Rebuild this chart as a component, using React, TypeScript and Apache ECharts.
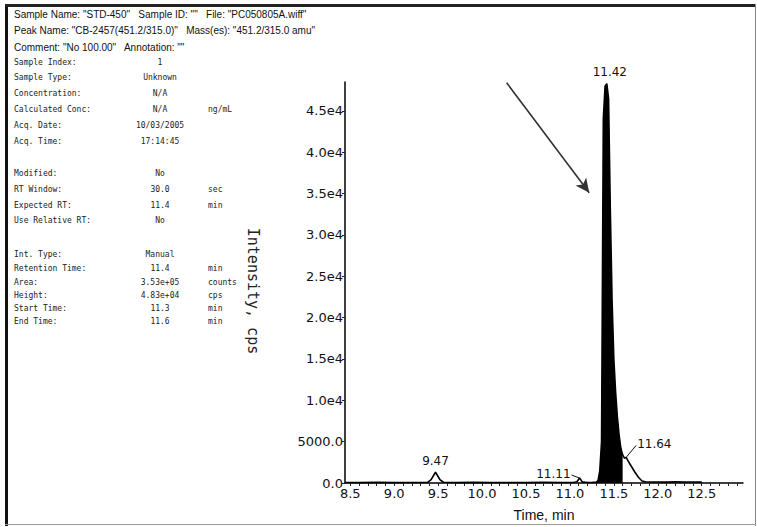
import React, { useEffect, useRef } from "react";
import * as echarts from "echarts";

// Extracted ion chromatogram: retention time (min) and intensity (cps)
const times = [
  8.45, 8.6, 8.8, 9.0, 9.2, 9.38, 9.42, 9.47, 9.52, 9.56, 9.7, 9.9, 10.1, 10.3, 10.5, 10.7, 10.9,
  11.04, 11.08, 11.11, 11.14, 11.2, 11.26, 11.3, 11.32, 11.34, 11.36, 11.38, 11.4, 11.42, 11.44,
  11.46, 11.48, 11.5, 11.52, 11.54, 11.56, 11.58, 11.6, 11.62, 11.64, 11.66, 11.7, 11.74, 11.78,
  11.82, 11.86, 11.92, 12.0, 12.1, 12.2, 12.3, 12.4, 12.5,
];
const intensities = [
  60, 40, 70, 50, 60, 80, 400, 1300, 420, 90, 50, 70, 40, 60, 50, 70, 60,
  60, 150, 600, 140, 60, 80, 120, 300, 1500, 5000, 44000, 48000, 48300, 46500,
  33000, 22000, 15000, 11000, 8000, 5800, 4200, 3400, 3000, 3100, 2700, 2000, 1300, 700,
  250, 150, 120, 130, 110, 140, 120, 130, 100,
];

// Integrated (filled) region of the main peak
const integrationStart = 11.3;
const integrationEnd = 11.6;

// Peak apex annotations
const peakTimes = [9.47, 11.11, 11.42, 11.64];
const peakHeights = [1300, 600, 48300, 3100];
const peakLabels = ["9.47", "11.11", "11.42", "11.64"];

// Axis tick labels
const xTickLabels = ["8.5", "9.0", "9.5", "10.0", "10.5", "11.0", "11.5", "12.0", "12.5"];
const yTickLabels = ["0.0", "5000.0", "1.0e4", "1.5e4", "2.0e4", "2.5e4", "3.0e4", "3.5e4", "4.0e4", "4.5e4"];

// Arrow pointing at the main peak (time, intensity)
const arrowFrom = [10.28, 48400];
const arrowTo = [11.22, 35100];

// Report header and peak information
const headerLines = [
  'Sample Name: "STD-450"   Sample ID: ""   File: "PC050805A.wiff"',
  'Peak Name: "CB-2457(451.2/315.0)"   Mass(es): "451.2/315.0 amu"',
  'Comment: "No 100.00"   Annotation: ""',
];
const infoLabels = [
  "Sample Index:", "Sample Type:", "Concentration:", "Calculated Conc:", "Acq. Date:", "Acq. Time:",
  "Modified:", "RT Window:", "Expected RT:", "Use Relative RT:",
  "Int. Type:", "Retention Time:", "Area:", "Height:", "Start Time:", "End Time:",
];
const infoValues = [
  "1", "Unknown", "N/A", "N/A", "10/03/2005", "17:14:45",
  "No", "30.0", "11.4", "No",
  "Manual", "11.4", "3.53e+05", "4.83e+04", "11.3", "11.6",
];
const infoUnits = [
  "", "", "", "ng/mL", "", "",
  "", "sec", "min", "",
  "", "min", "counts", "cps", "min", "min",
];

const W = 757;
const H = 527;
const infoRowY = [62, 77, 93, 109, 125, 141, 173, 189, 205, 220, 254, 268, 282, 295, 308, 321];
const labelLayout = [
  { dx: 0, dy: -5, leader: false, align: "center" },
  { dx: -8, dy: -3, leader: true, align: "right" },
  { dx: 3, dy: -6, leader: false, align: "center" },
  { dx: 10, dy: -12, leader: true, align: "left" },
];

const monoFont = "DejaVu Sans Mono";
const axisFont = "DejaVu Sans";

function buildOption() {
  const trace = times.map((t, i) => [t, intensities[i]]);
  const filled = trace.filter(([t]) => t >= integrationStart - 1e-9 && t <= integrationEnd + 1e-9);

  const graphics: any[] = [];
  // report frame
  graphics.push(
    { type: "line", shape: { x1: 6.5, y1: 4, x2: 6.5, y2: 526 }, style: { stroke: "#111", lineWidth: 3 } },
    { type: "line", shape: { x1: 5, y1: 5.5, x2: 756, y2: 5.5 }, style: { stroke: "#222", lineWidth: 3 } },
    { type: "line", shape: { x1: 755.5, y1: 4, x2: 755.5, y2: 526 }, style: { stroke: "#888", lineWidth: 1 } },
    { type: "line", shape: { x1: 5, y1: 524.5, x2: 756, y2: 524.5 }, style: { stroke: "#999", lineWidth: 1 } }
  );
  headerLines.forEach((line, i) => {
    graphics.push({
      type: "text",
      x: 14,
      y: 14 + i * 16.5,
      style: { text: line, font: `10px "Liberation Sans"`, fill: "#111", verticalAlign: "middle" },
    });
  });
  infoLabels.forEach((label, i) => {
    const y = infoRowY[i];
    graphics.push(
      { type: "text", x: 14, y, style: { text: label, font: `8px "${monoFont}"`, fill: "#222", verticalAlign: "middle" } },
      {
        type: "text",
        x: 160,
        y,
        style: { text: infoValues[i], font: `8px "${monoFont}"`, fill: "#222", align: "center", verticalAlign: "middle" },
      }
    );
    if (infoUnits[i]) {
      graphics.push({
        type: "text",
        x: 208,
        y,
        style: { text: infoUnits[i], font: `8px "${monoFont}"`, fill: "#222", verticalAlign: "middle" },
      });
    }
  });
  graphics.push({
    type: "text",
    x: 253,
    y: 291,
    rotation: -Math.PI / 2,
    style: {
      text: "Intensity, cps",
      font: `15px "${monoFont}"`,
      fill: "#222",
      align: "center",
      verticalAlign: "middle",
    },
  });

  return {
    animation: false,
    backgroundColor: "#fff",
    grid: { left: 345, right: 14, top: 82, bottom: 44, containLabel: false },
    xAxis: {
      type: "value",
      min: 8.44,
      max: 12.97,
      minInterval: 0.1,
      maxInterval: 0.1,
      name: "Time, min",
      nameLocation: "middle",
      nameGap: 25,
      nameTextStyle: { fontFamily: "Liberation Sans", fontSize: 14, color: "#111" },
      axisLine: { lineStyle: { color: "#000", width: 1.5 } },
      axisTick: { show: true, length: 3, lineStyle: { color: "#222", width: 1 } },
      splitLine: { show: false },
      axisLabel: {
        showMinLabel: false,
        showMaxLabel: false,
        margin: 4,
        fontFamily: axisFont,
        fontSize: 13,
        color: "#111",
        formatter: (v: number) => {
          const i = Math.round((v - 8.5) / 0.5);
          if (i < 0 || i >= xTickLabels.length) return "";
          return Math.abs(v - (8.5 + i * 0.5)) < 1e-6 ? xTickLabels[i] : "";
        },
      },
    },
    yAxis: {
      type: "value",
      min: 0,
      max: 48500,
      minInterval: 5000,
      maxInterval: 5000,
      axisLine: { show: true, lineStyle: { color: "#000", width: 1.5 } },
      axisTick: { show: true, length: 3, lineStyle: { color: "#222" } },
      splitLine: { show: false },
      axisLabel: {
        showMaxLabel: false,
        margin: 2,
        fontFamily: axisFont,
        fontSize: 13,
        color: "#111",
        formatter: (v: number) => {
          const i = Math.round(v / 5000);
          return Math.abs(v - i * 5000) < 1e-6 && i < yTickLabels.length ? yTickLabels[i] : "";
        },
      },
    },
    series: [
      {
        name: "Integrated peak",
        type: "line",
        data: filled,
        symbol: "none",
        lineStyle: { width: 0 },
        areaStyle: { color: "#000", opacity: 1 },
        z: 2,
      },
      {
        name: "XIC",
        type: "line",
        data: trace,
        symbol: "none",
        lineStyle: { color: "#000", width: 1.6 },
        z: 3,
        markLine: {
          silent: true,
          symbol: ["none", "arrow"],
          symbolSize: [10, 14],
          label: { show: false },
          lineStyle: { color: "#333", width: 1.6, type: "solid" },
          data: [[{ coord: arrowFrom }, { coord: arrowTo }]],
        },
      },
      {
        name: "Peak labels",
        type: "custom",
        clip: false,
        z: 4,
        data: peakTimes.map((t, i) => [t, peakHeights[i], i]),
        renderItem: (params: any, api: any) => {
          const i = params.dataIndex;
          const p = api.coord([api.value(0), api.value(1)]);
          const lay = labelLayout[i];
          const children: any[] = [];
          const ex = p[0] + lay.dx;
          const ey = p[1] + lay.dy;
          if (lay.leader) {
            children.push({
              type: "line",
              shape: { x1: p[0], y1: p[1], x2: ex, y2: ey },
              style: { stroke: "#111", lineWidth: 1 },
            });
            children.push({
              type: "text",
              x: lay.align === "right" ? ex - 1 : ex + 1,
              y: ey - 1,
              style: {
                text: peakLabels[i],
                font: `12px "${axisFont}"`,
                fill: "#111",
                align: lay.align,
                verticalAlign: "middle",
              },
            });
          } else {
            children.push({
              type: "text",
              x: ex,
              y: ey,
              style: {
                text: peakLabels[i],
                font: `12px "${axisFont}"`,
                fill: "#111",
                align: "center",
                verticalAlign: "bottom",
              },
            });
          }
          return { type: "group", children };
        },
      },
    ],
    graphic: graphics,
  };
}

export default function App() {
  const ref = useRef<HTMLDivElement>(null);
  useEffect(() => {
    if (!ref.current) return;
    const chart = echarts.init(ref.current, undefined, { renderer: "svg" });
    chart.setOption(buildOption() as any);
    return () => chart.dispose();
  }, []);
  return (
    <div
      ref={ref}
      style={{ position: "fixed", left: 0, top: 0, width: W, height: H, background: "#fff" }}
    />
  );
}
